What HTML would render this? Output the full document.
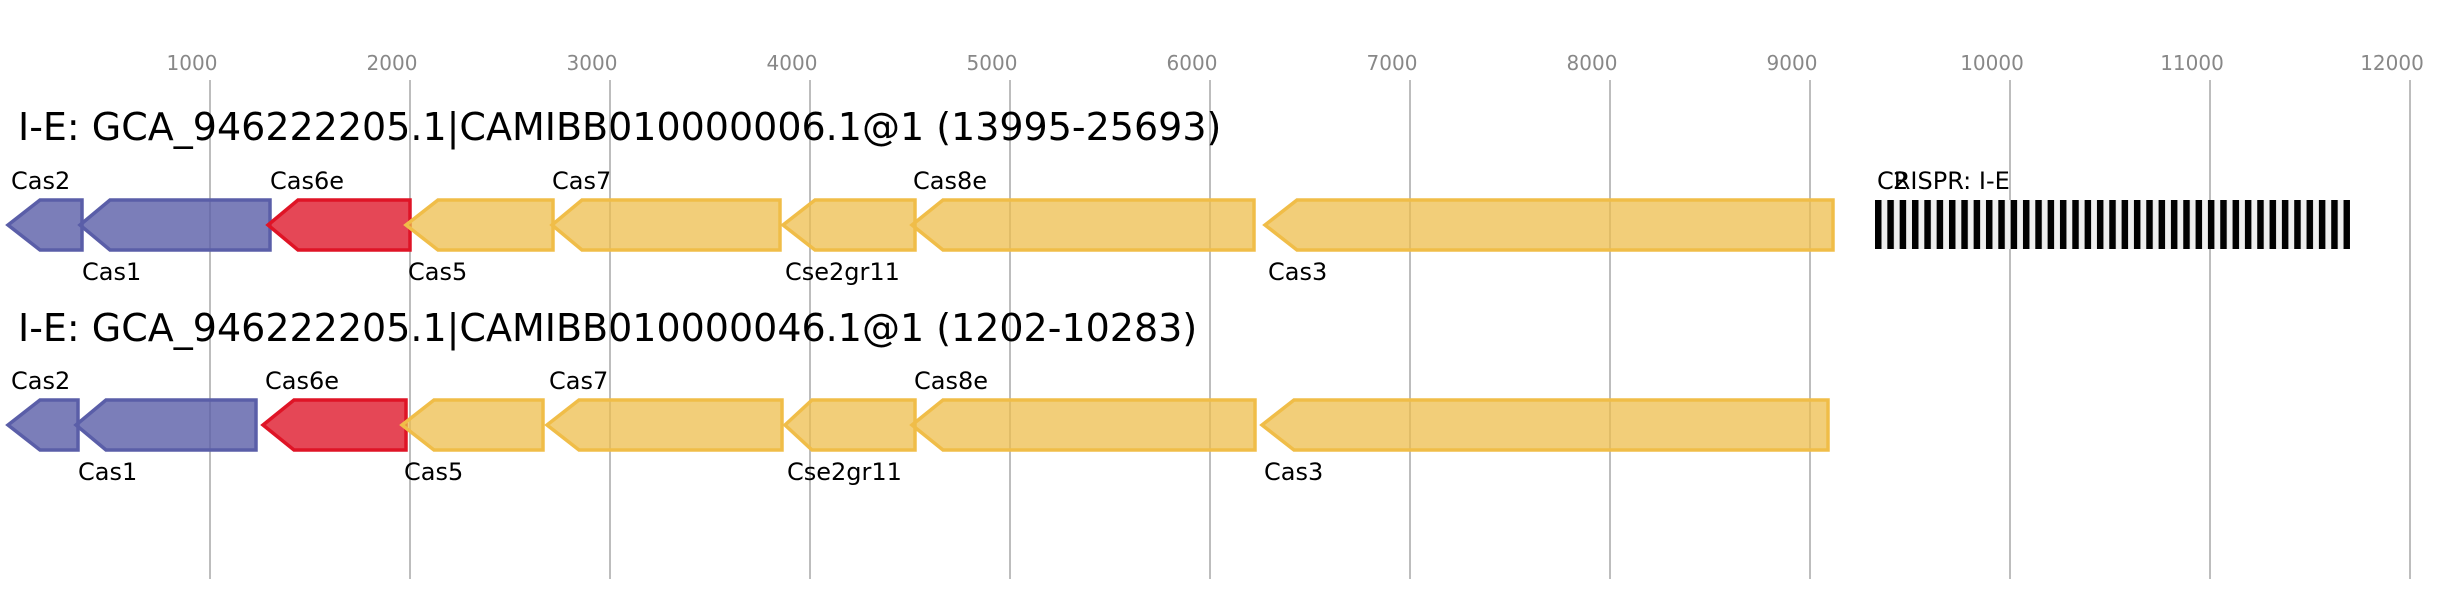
<!DOCTYPE html>
<html><head><meta charset="utf-8"><style>
html,body{margin:0;padding:0;background:#fff;}
svg{display:block;}
text{font-family:"DejaVu Sans","Liberation Sans",sans-serif;}
</style></head><body>
<svg width="2440" height="600" viewBox="0 0 2440 600" xmlns="http://www.w3.org/2000/svg">
<defs>
<pattern id="cr" x="1875" y="0" width="12.33" height="600" patternUnits="userSpaceOnUse">
<rect x="0" y="0" width="12.33" height="600" fill="#efefef"/>
<rect x="0" y="0" width="6.5" height="600" fill="#000"/>
</pattern>
</defs>
<rect width="2440" height="600" fill="#fff"/>
<g stroke="#bdbdbd" stroke-width="2">
<line x1="210" y1="80" x2="210" y2="579"/>
<line x1="410" y1="80" x2="410" y2="579"/>
<line x1="610" y1="80" x2="610" y2="579"/>
<line x1="810" y1="80" x2="810" y2="579"/>
<line x1="1010" y1="80" x2="1010" y2="579"/>
<line x1="1210" y1="80" x2="1210" y2="579"/>
<line x1="1410" y1="80" x2="1410" y2="579"/>
<line x1="1610" y1="80" x2="1610" y2="579"/>
<line x1="1810" y1="80" x2="1810" y2="579"/>
<line x1="2010" y1="80" x2="2010" y2="579"/>
<line x1="2210" y1="80" x2="2210" y2="579"/>
<line x1="2410" y1="80" x2="2410" y2="579"/>
</g>
<g fill="#888" font-size="20" text-anchor="middle">
<text x="192" y="70">1000</text>
<text x="392" y="70">2000</text>
<text x="592" y="70">3000</text>
<text x="792" y="70">4000</text>
<text x="992" y="70">5000</text>
<text x="1192" y="70">6000</text>
<text x="1392" y="70">7000</text>
<text x="1592" y="70">8000</text>
<text x="1792" y="70">9000</text>
<text x="1992" y="70">10000</text>
<text x="2192" y="70">11000</text>
<text x="2392" y="70">12000</text>
</g>
<g font-size="38" fill="#000">
<text x="18" y="140">I-E: GCA_946222205.1|CAMIBB010000006.1@1 (13995-25693)</text>
<text x="18" y="341">I-E: GCA_946222205.1|CAMIBB010000046.1@1 (1202-10283)</text>
</g>
<g stroke-width="3.5" stroke-linejoin="miter">
<polygon points="8,225 40,200 82,200 82,250 40,250" fill="rgba(90,94,168,0.8)" stroke="#5a5ea8"/>
<polygon points="80,225 110,200 270,200 270,250 110,250" fill="rgba(90,94,168,0.8)" stroke="#5a5ea8"/>
<polygon points="268,225 298,200 410,200 410,250 298,250" fill="rgba(222,25,44,0.8)" stroke="#df1426"/>
<polygon points="406,225 438,200 553,200 553,250 438,250" fill="rgba(238,190,76,0.75)" stroke="#f0bd48"/>
<polygon points="552,225 582,200 780,200 780,250 582,250" fill="rgba(238,190,76,0.75)" stroke="#f0bd48"/>
<polygon points="783,225 815,200 915,200 915,250 815,250" fill="rgba(238,190,76,0.75)" stroke="#f0bd48"/>
<polygon points="912,225 943,200 1254,200 1254,250 943,250" fill="rgba(238,190,76,0.75)" stroke="#f0bd48"/>
<polygon points="1265,225 1297,200 1833,200 1833,250 1297,250" fill="rgba(238,190,76,0.75)" stroke="#f0bd48"/>
<polygon points="8,425 40,400 78,400 78,450 40,450" fill="rgba(90,94,168,0.8)" stroke="#5a5ea8"/>
<polygon points="76,425 106,400 256,400 256,450 106,450" fill="rgba(90,94,168,0.8)" stroke="#5a5ea8"/>
<polygon points="263,425 294,400 406,400 406,450 294,450" fill="rgba(222,25,44,0.8)" stroke="#df1426"/>
<polygon points="402,425 434,400 543,400 543,450 434,450" fill="rgba(238,190,76,0.75)" stroke="#f0bd48"/>
<polygon points="547,425 579,400 782,400 782,450 579,450" fill="rgba(238,190,76,0.75)" stroke="#f0bd48"/>
<polygon points="785,425 812,400 915,400 915,450 812,450" fill="rgba(238,190,76,0.75)" stroke="#f0bd48"/>
<polygon points="912,425 943,400 1255,400 1255,450 943,450" fill="rgba(238,190,76,0.75)" stroke="#f0bd48"/>
<polygon points="1262,425 1294,400 1828,400 1828,450 1294,450" fill="rgba(238,190,76,0.75)" stroke="#f0bd48"/>
</g>
<rect x="1875" y="200" width="475" height="49" fill="url(#cr)"/>
<g font-size="24" fill="#000">
<text x="11" y="189">Cas2</text>
<text x="82" y="280">Cas1</text>
<text x="270" y="189">Cas6e</text>
<text x="408" y="280">Cas5</text>
<text x="552" y="189">Cas7</text>
<text x="785" y="280">Cse2gr11</text>
<text x="913" y="189">Cas8e</text>
<text x="1268" y="280">Cas3</text>
<text x="1877" y="189">CRISPR: I-E</text>
<text x="1893" y="189">2</text>
<text x="11" y="389">Cas2</text>
<text x="78" y="480">Cas1</text>
<text x="265" y="389">Cas6e</text>
<text x="404" y="480">Cas5</text>
<text x="549" y="389">Cas7</text>
<text x="787" y="480">Cse2gr11</text>
<text x="914" y="389">Cas8e</text>
<text x="1264" y="480">Cas3</text>
</g>
</svg>
</body></html>
